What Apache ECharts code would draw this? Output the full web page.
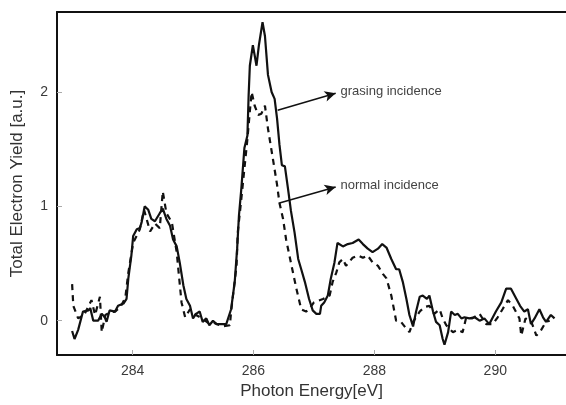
<!DOCTYPE html>
<html>
<head>
<meta charset="utf-8">
<script src="https://cdn.jsdelivr.net/npm/echarts@6/dist/echarts.min.js"></script>
<style>
  html, body { margin: 0; padding: 0; background: #fff; }
  #chart { width: 566px; height: 405px; }
</style>
</head>
<body>
<div id="chart"></div>
<script>
// photon energy ticks
const xTicks = [284, 286, 288, 290];
const yTicks = [0, 1, 2];

// grasing incidence (solid)
const grasingX = [283.00, 283.04, 283.10, 283.18, 283.27, 283.30, 283.35, 283.43, 283.49, 283.54, 283.57, 283.62, 283.71, 283.76, 283.85, 283.90, 283.93, 283.98, 284.01, 284.07, 284.12, 284.15, 284.20, 284.26, 284.31, 284.37, 284.45, 284.50, 284.56, 284.62, 284.67, 284.73, 284.78, 284.84, 284.89, 284.95, 285.00, 285.05, 285.11, 285.16, 285.22, 285.27, 285.33, 285.39, 285.47, 285.55, 285.63, 285.69, 285.73, 285.76, 285.80, 285.85, 285.90, 285.92, 285.94, 285.99, 286.05, 286.09, 286.15, 286.19, 286.24, 286.30, 286.35, 286.39, 286.43, 286.47, 286.52, 286.57, 286.62, 286.68, 286.74, 286.79, 286.85, 286.92, 286.98, 287.04, 287.10, 287.12, 287.17, 287.23, 287.28, 287.34, 287.39, 287.48, 287.56, 287.64, 287.74, 287.81, 287.89, 287.97, 288.06, 288.13, 288.20, 288.28, 288.36, 288.41, 288.47, 288.53, 288.58, 288.64, 288.69, 288.75, 288.80, 288.87, 288.91, 288.97, 289.02, 289.08, 289.13, 289.16, 289.22, 289.27, 289.33, 289.38, 289.44, 289.49, 289.57, 289.66, 289.74, 289.82, 289.90, 289.96, 290.01, 290.10, 290.18, 290.26, 290.35, 290.41, 290.48, 290.54, 290.59, 290.65, 290.73, 290.79, 290.84, 290.92, 290.98];
const grasingY = [-0.09, -0.16, -0.08, 0.08, 0.09, 0.11, 0.00, 0.00, 0.06, 0.03, -0.01, 0.09, 0.08, 0.13, 0.15, 0.19, 0.37, 0.57, 0.74, 0.80, 0.81, 0.86, 1.00, 0.97, 0.89, 0.87, 0.94, 0.98, 0.89, 0.83, 0.71, 0.65, 0.51, 0.31, 0.19, 0.13, 0.02, 0.06, 0.08, -0.01, 0.02, -0.04, 0.00, -0.03, -0.03, -0.03, 0.10, 0.34, 0.63, 0.92, 1.16, 1.51, 1.62, 1.97, 2.23, 2.41, 2.23, 2.41, 2.61, 2.49, 2.15, 2.00, 1.94, 1.77, 1.54, 1.36, 1.35, 1.16, 0.96, 0.77, 0.54, 0.45, 0.34, 0.19, 0.09, 0.06, 0.06, 0.13, 0.16, 0.22, 0.37, 0.51, 0.68, 0.65, 0.67, 0.68, 0.71, 0.67, 0.63, 0.60, 0.63, 0.67, 0.64, 0.54, 0.45, 0.45, 0.34, 0.19, 0.05, -0.05, 0.08, 0.21, 0.22, 0.19, 0.22, 0.08, -0.01, -0.04, -0.16, -0.21, -0.10, 0.08, 0.05, 0.06, 0.02, 0.03, 0.02, 0.03, 0.00, 0.02, -0.03, 0.03, 0.08, 0.16, 0.28, 0.28, 0.19, 0.13, 0.08, 0.10, -0.03, 0.02, 0.10, 0.03, -0.01, 0.05, 0.02];

// normal incidence (dashed)
const normalX = [283.00, 283.02, 283.10, 283.20, 283.32, 283.38, 283.46, 283.49, 283.55, 283.62, 283.71, 283.80, 283.88, 283.93, 284.01, 284.12, 284.19, 284.29, 284.37, 284.45, 284.50, 284.56, 284.65, 284.73, 284.81, 284.87, 284.95, 285.05, 285.15, 285.25, 285.35, 285.49, 285.61, 285.63, 285.72, 285.74, 285.80, 285.85, 285.90, 285.94, 285.97, 286.02, 286.08, 286.13, 286.19, 286.24, 286.32, 286.39, 286.43, 286.49, 286.54, 286.63, 286.71, 286.79, 286.87, 286.92, 287.00, 287.15, 287.26, 287.31, 287.37, 287.42, 287.48, 287.53, 287.64, 287.73, 287.81, 287.89, 287.97, 288.06, 288.14, 288.20, 288.28, 288.36, 288.44, 288.53, 288.58, 288.64, 288.75, 288.83, 288.91, 288.99, 289.08, 289.13, 289.19, 289.24, 289.30, 289.38, 289.46, 289.52, 289.62, 289.74, 289.85, 289.96, 290.04, 290.12, 290.21, 290.29, 290.40, 290.43, 290.50, 290.59, 290.68, 290.76, 290.84, 290.90];
const normalY = [0.32, 0.13, 0.02, 0.05, 0.18, 0.05, 0.21, -0.10, 0.05, 0.07, 0.08, 0.12, 0.20, 0.42, 0.68, 0.80, 0.97, 0.78, 0.85, 0.81, 1.13, 0.94, 0.86, 0.60, 0.16, 0.03, 0.10, 0.05, 0.02, -0.02, -0.02, -0.05, -0.04, 0.08, 0.48, 0.77, 1.07, 1.33, 1.59, 1.83, 2.00, 1.88, 1.80, 1.81, 1.88, 1.68, 1.42, 1.19, 1.03, 0.89, 0.71, 0.48, 0.28, 0.10, 0.08, 0.10, 0.16, 0.19, 0.22, 0.34, 0.42, 0.51, 0.54, 0.48, 0.55, 0.57, 0.55, 0.57, 0.51, 0.48, 0.41, 0.37, 0.22, 0.00, -0.01, -0.07, -0.10, -0.01, 0.08, 0.12, 0.13, 0.06, 0.10, 0.02, -0.04, -0.07, -0.10, -0.08, -0.10, 0.03, 0.02, 0.06, -0.03, -0.03, 0.03, 0.10, 0.18, 0.13, 0.02, -0.13, 0.02, 0.00, -0.13, -0.08, -0.01, 0.00];

// annotation labels
const labels = ["grasing incidence", "normal incidence"];

const font = "Liberation Sans, Arial, sans-serif";
const zip = (xs, ys) => xs.map((x, i) => [x, ys[i]]);

const chart = echarts.init(document.getElementById("chart"));
chart.setOption({
  animation: false,
  backgroundColor: "#fff",
  grid: { left: 57, right: 0, top: 12, bottom: 48 },
  xAxis: [
    {
      type: "value",
      min: 282.75,
      max: 291.17,
      name: "Photon Energy[eV]",
      nameLocation: "middle",
      nameGap: 28,
      nameTextStyle: { fontFamily: font, fontSize: 17, color: "#333" },
      splitLine: { show: false },
      axisLine: { onZero: false, lineStyle: { color: "#111", width: 2 } },
      axisTick: { inside: true, length: 5, customValues: xTicks, lineStyle: { color: "#aaa" } },
      axisLabel: { customValues: xTicks, margin: 9, fontFamily: font, fontSize: 14, color: "#3a3a3a" }
    },
    {
      type: "value",
      position: "top",
      min: 282.75,
      max: 291.17,
      splitLine: { show: false },
      axisLine: { show: true, onZero: false, lineStyle: { color: "#111", width: 2 } },
      axisTick: { show: false },
      axisLabel: { show: false }
    }
  ],
  yAxis: {
    type: "value",
    min: -0.3,
    max: 2.7,
    name: "Total Electron Yield [a.u.]",
    nameLocation: "middle",
    nameGap: 31,
    nameTextStyle: { fontFamily: font, fontSize: 17, color: "#333" },
    splitLine: { show: false },
    axisLine: { show: true, onZero: false, lineStyle: { color: "#111", width: 2 } },
    axisTick: { show: true, inside: true, length: 5, customValues: yTicks, lineStyle: { color: "#aaa" } },
    axisLabel: { customValues: yTicks, margin: 9, fontFamily: font, fontSize: 14, color: "#3a3a3a" }
  },
  series: [
    {
      name: "grasing incidence",
      type: "line",
      data: zip(grasingX, grasingY),
      showSymbol: false,
      lineStyle: { color: "#111", width: 2.2 },
      markLine: {
        silent: true,
        symbol: ["none", "arrow"],
        symbolSize: [8, 11],
        lineStyle: { color: "#111", width: 1.5, type: "solid" },
        label: {
          show: true,
          position: "end",
          distance: 5,
          formatter: (p) => p.name,
          fontFamily: font,
          fontSize: 13,
          color: "#444"
        },
        data: [
          [{ name: labels[0], coord: [286.40, 1.84] }, { coord: [287.36, 1.99] }],
          [{ name: labels[1], coord: [286.43, 1.03] }, { coord: [287.36, 1.17] }]
        ]
      }
    },
    {
      name: "normal incidence",
      type: "line",
      data: zip(normalX, normalY),
      showSymbol: false,
      lineStyle: { color: "#111", width: 2.2, type: [6, 5] }
    }
  ]
});
</script>
</body>
</html>
